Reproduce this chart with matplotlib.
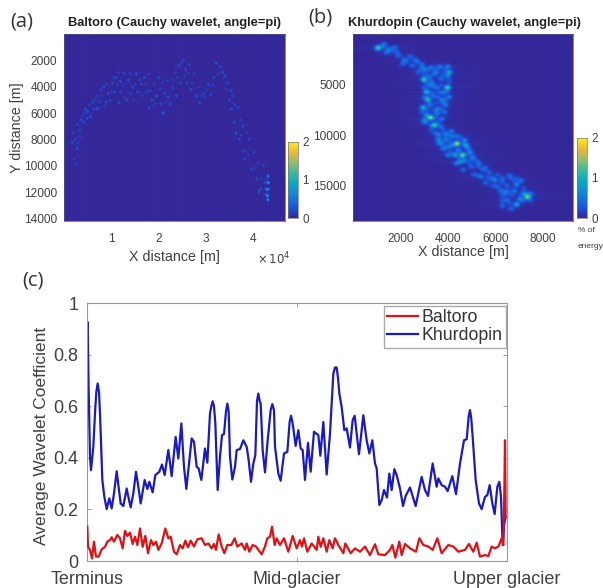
import numpy as np
import matplotlib
matplotlib.use('Agg')
import matplotlib.pyplot as plt
from matplotlib.colors import LinearSegmentedColormap

# (c) average wavelet coefficient along the glacier
khurdopin_pos = [1,2,5,9,12,19,25,28,32,36,39,46,52,59,67,74,81,89,96,101,109,119,124,131,139,147,154,161,173,181,187,197,
    205,217,225,233,244,254,266,274,283,291,298,307,314,321,329,335,343,354,361,369,373,377,381,385,392,399,405,411,417,421,425,429,436,444,
    449,459,469,479,485,492,499,505,510,514,518,521,527,534,542,551,556,561,564,574,581,591,601,608,612,616,619,626,634,641,647,654,663,671,681,694,
    700,709,719,729,739,744,749,753,757,764,772,779,789,797,803,816,829,839,847,856,864,869,877,884,891,900,907,914,922,929,939,948,
    956,969,986,1004,1014,1023,1037,1049,1054,1064,1074,1082,1096,1107,1119,1131,1139,1145,1149,1153,1157,1166,1176,1184,1194,1201,1208,1216,1223,1231,1237,1242,
    1247,1252,1256]
khurdopin_val = [.90,.926,.66,.404,.352,.443,.597,.655,.688,.655,.572,.314,.249,.201,.243,.204,.262,.348,.275,.223,.213,.281,.249,.208,.262,.346,.288,.223,.314,.279,.307,.266,
    .333,.346,.374,.333,.43,.329,.481,.397,.533,.365,.279,.391,.475,.462,.365,.359,.314,.436,.381,.572,.60,.619,.60,.533,.275,.404,.488,.492,.58,.61,.58,.404,.316,.365,
    .43,.434,.468,.443,.391,.307,.378,.41,.62,.649,.62,.61,.43,.343,.468,.585,.608,.585,.443,.339,.311,.417,.423,.54,.563,.54,.514,.446,.507,.436,.43,.314,.458,.346,.501,.488,
    .408,.539,.335,.494,.726,.75,.75,.71,.649,.597,.507,.514,.44,.546,.563,.414,.565,.468,.417,.468,.378,.359,.217,.236,.275,.246,.339,.275,.356,.333,.281,.213,
    .252,.285,.213,.326,.275,.252,.378,.288,.32,.294,.288,.271,.329,.259,.378,.468,.472,.56,.585,.55,.481,.314,.223,.201,.249,.255,.294,.223,.182,.288,.307,.249,
    .062,.146,.172]

baltoro_pos = [1,3,9,15,21,27,35,44,54,61,69,74,81,91,99,107,114,121,129,137,144,151,159,167,175,183,192,199,207,214,
    224,235,244,251,261,269,279,287,295,303,311,321,331,344,354,364,374,381,387,395,404,412,421,433,443,451,464,474,479,487,
    497,507,524,534,541,549,555,563,569,579,591,604,617,629,639,645,651,661,674,689,694,701,709,719,727,737,744,754,769,775,
    791,804,819,834,849,864,874,894,909,916,925,937,944,954,969,987,997,1009,1024,1037,1051,1064,1084,1099,1114,1134,1146,1159,1169,1179,
    1194,1204,1214,1224,1234,1244,1249,1252,1254,1256]
baltoro_val = [.133,.055,.043,.01,.075,.017,.017,.045,.055,.075,.081,.092,.075,.101,.088,.049,.117,.097,.11,.066,.094,.062,.126,.055,.097,.03,.081,.062,.075,.043,
    .068,.126,.088,.094,.036,.026,.062,.049,.079,.053,.079,.056,.084,.088,.062,.068,.049,.066,.043,.103,.056,.03,.062,.062,.088,.056,.068,.043,.068,.036,
    .062,.056,.026,.056,.088,.094,.133,.062,.088,.062,.088,.036,.097,.049,.081,.056,.088,.036,.068,.043,.094,.055,.088,.036,.081,.049,.088,.062,.03,.068,
    .03,.049,.036,.056,.023,.065,.026,.023,.043,.062,.013,.075,.023,.066,.049,.036,.088,.062,.056,.043,.088,.03,.062,.056,.036,.043,.066,.036,.071,.017,
    .023,.019,.056,.049,.056,.088,.062,.275,.468,.17]

c_ticks = [0, 630, 1260]
c_ticklabels = ['Terminus', 'Mid-glacier', 'Upper glacier']
c_yticks = [0, 0.2, 0.4, 0.6, 0.8, 1]
c_yticklabels = ['0', '0.2', '0.4', '0.6', '0.8', '1']

# (a) Baltoro energy hot spots [m]
bal_x = [1700,2000,2700,2900,3300,2800,3500,4200,4500,5000,4800,5500,6000,6500,6900,7500,7700,8400,8900,9300,9700,10200,10700,11000,
    11500,11900,12000,12700,13200,13600,14000,14500,15200,15600,16000,16400,17000,17500,18000,18600,19000,19500,20000,20500,21000,21300,
    21800,22000,22500,23000,23500,23800,24300,24700,25200,25700,26000,26500,26800,27500,28000,28700,29500,29800,30500,31000,31700,32200,
    33000,33500,34000,34500,35300,35500,35700,36000,36800,36400,37100,37800,38000,38300,39200,39700,40200,40800,41200,41500,42200,42500,
    43200,43200,43150,43100,42700,42800,43100]
bal_y = [8200,7500,8700,8300,7300,6900,6500,6700,5700,5900,6400,6300,5200,5000,5700,5100,4200,4000,5200,4500,5000,3700,4400,3300,
    5200,3600,4400,3000,5000,3500,4500,4000,3000,4400,3500,3800,3300,4400,5600,5000,3800,4700,3300,5300,6000,4500,
    3500,4800,5300,4100,2900,4700,2400,3700,2000,2700,3700,2300,4200,3000,4700,5200,4500,4800,3800,4600,3300,2200,
    2500,2900,3200,3700,4300,5700,4700,6700,5600,7500,8000,7000,8900,9500,8000,10300,9000,11000,12000,11800,10000,11300,
    10800,11300,11800,12300,11800,12200,12600]
bal_v = [.3,.25,.32,.25,.32,.28,.35,.32,.4,.35,.32,.28,.28,.25,.32,.28,.28,.32,.32,.28,.28,.28,.32,.32,
    .28,.32,.28,.32,.28,.32,.28,.32,.35,.28,.32,.28,.32,.32,.32,.35,.28,.4,.32,.35,.5,.32,
    .28,.35,.32,.28,.28,.32,.32,.28,.28,.28,.28,.25,.32,.28,.32,.32,.25,.28,.28,.28,.32,.4,
    .32,.35,.35,.32,.35,.35,.28,.35,.32,.4,.35,.32,.32,.28,.28,.28,.28,.32,.32,.35,.28,.32,
    .8,1.2,1.0,.9,.5,.45,.9]
bal_fill_x = [2200,2500,2400,3000,3700,3900,4300,5300,5800,6200,7200,7000,8000,8500,9000,10000,10500,11500,11300,12500,12800,13900,14700,15000,
    16500,17200,17800,18300,18800,19300,20300,20800,21500,22800,24000,24800,25500,26300,27200,28300,29000,30200,31400,32600,34300,35000,
    36200,37500,37500,38800,39000,40500,41000,41800,42800]
bal_fill_y = [9500,9900,8000,7800,7900,6200,6000,5400,6100,5700,5600,4700,4700,5500,3800,4400,3300,2900,3900,3900,4800,3000,5000,3800,
    4700,3800,3000,4300,5500,5300,4200,3700,5200,3400,3300,2200,3200,3000,3700,4000,4700,4200,3900,3000,4200,5000,
    5400,6500,7700,7500,9200,10200,9800,11000,11000]

# (b) Khurdopin energy hot spots [m]
khu_x = [1047,1300,1500,1750,1400,1900,2150,2400,2700,2100,2500,2900,3000,2750,3300,3650,4000,4048,3500,3200,2987,3300,3700,3979,4000,
    3099,3500,3800,3141,3400,3750,4050,2960,3250,3550,3900,3100,3267,3550,3750,3050,3434,3700,3500,3900,4150,3600,3900,4200,4384,4700,
    3800,4100,4450,4750,4000,4300,4635,4850,4350,4700,5050,4650,5000,5300,5500,5100,5400,5750,5900,5600,6000,6300,6600,6100,6500,6900,
    7100,6450,6800,7357,7050,6500,6900,7500,6300,6650,6900,3250,3850,4550,3650,4950,6250,7250]
khu_y = [1353,1000,1500,1300,1800,2100,2500,2200,2700,2900,3100,3000,3500,3700,3300,3200,3200,3795,3800,4200,4488,4700,4400,5280,4200,
    5709,5300,5800,6435,6100,6500,6200,7260,7000,7400,7000,8000,8250,7900,8400,8700,9009,9200,9800,9900,9600,10500,10400,10100,10824,10500,
    11300,11100,11500,11000,12000,11900,11979,11300,12800,12500,12200,13400,13100,12800,13400,13900,14100,13700,14300,14700,14500,14300,14000,15100,15000,14800,
    14500,15700,15500,16104,16300,16400,16800,15800,17000,17300,16900,5100,7700,12600,10800,11700,15500,15800]
khu_v = [1.2,.45,.45,.35,.4,.35,.35,.35,.35,.35,.35,.35,.4,.35,.4,.45,.5,.8,.4,.4,1.15,.4,.4,1.25,.45,
    .9,.4,.4,1.0,.4,.4,.45,.9,.4,.4,.4,.55,1.45,.45,.4,.45,1.15,.4,.4,.4,.4,.45,.45,.45,1.6,.55,
    .45,.45,.55,.55,.4,.45,1.1,.45,.35,.4,.35,.35,.35,.35,.35,.35,.35,.35,.35,.35,.35,.35,.4,.35,.35,.4,
    .4,.4,.45,1.4,.55,.35,.4,.4,.35,.35,.4,.4,.4,.45,.4,.35,.4,.55]
khu_fill_x = [1250,1650,1850,2300,2600,2900,3000,3150,3500,3850,3400,3800,4050,3400,3700,3100,3000,3300,3650,3950,3000,3600,3900,3200,3500,3800,
    2900,3150,3450,3700,3450,3050,2950,3300,3600,3300,3650,3850,3600,4000,4400,3800,4100,4500,4700,3950,4250,4300,4600,4100,4900,4500,
    4900,5200,4450,5000,5300,5600,5300,5700,6100,6300,6700,5900,6900,6500,7200,6900,6300,7100,7500,6700,6300,7200,6600]
khu_fill_y = [1250,1700,1750,2700,2500,3300,4000,3500,3500,3500,4000,4000,4700,5000,5000,4900,5300,5800,5700,5700,6200,6200,6500,6700,6800,6800,
    7700,7500,7600,7400,8400,8400,8600,9000,8800,9500,9900,9500,10200,10000,10100,10800,10600,10200,10900,11200,11000,12000,11900,11700,11700,12200,
    12700,12500,12700,12300,13100,13200,14000,14200,13900,14700,14400,15000,14300,15500,15300,15000,16000,15800,16400,15900,16500,16500,16700]

parula = LinearSegmentedColormap.from_list('parula', [(0, '#34289a'), (0.14, '#1a58e0'), (0.29, '#1482d6'),
    (0.43, '#0aa5c8'), (0.57, '#30b8a0'), (0.71, '#8abf70'), (0.86, '#f0b838'), (1, '#f9f510')])
text_col = '#404040'


def heat_grid(xs, ys, vals, xlim, ylim, nx, ny, sx, sy, streak=0):
    gx = np.linspace(xlim[0], xlim[1], nx)
    gy = np.linspace(ylim[0], ylim[1], ny)
    X, Y = np.meshgrid(gx, gy)
    grid = np.zeros_like(X)
    for x0, y0, v in zip(xs, ys, vals):
        grid += v * np.exp(-(X-x0)**2/(2*sx**2) - (Y-y0)**2/(2*sy**2))
        if streak:
            grid += streak * v * np.exp(-(X-x0)**2/(2*(10*sx)**2) - (Y-y0)**2/(2*(0.5*sy)**2))
    return grid


def px_axes(fig, left, top, right, bottom):
    W, H = 603.0, 588.0
    return fig.add_axes([left/W, 1-bottom/H, (right-left)/W, (bottom-top)/H])


def heat_panel(fig, box, cbox, grid, xlim, ylim, title, title_x, xlabel_pad):
    ax = px_axes(fig, *box)
    ax.imshow(grid, extent=[xlim[0], xlim[1], ylim[0], ylim[1]], origin='lower', cmap=parula, vmin=0, vmax=2,
              aspect='auto', interpolation='bilinear')
    ax.set_xlim(xlim)
    ax.set_ylim(ylim[1], ylim[0])
    ax.tick_params(length=0, labelsize=8.6, colors=text_col, pad=5)
    ax.tick_params(axis='x', pad=8.5)
    for s in ax.spines.values():
        s.set_linewidth(0.5)
        s.set_color('#555577')
    ax.set_xlabel('X distance [m]', fontsize=10.3, color=text_col, labelpad=xlabel_pad)
    fig.text(title_x/603.0, 1-23/588.0, title, fontsize=9.3, fontweight='bold', color='#222222', ha='center', va='center')
    cax = px_axes(fig, *cbox)
    cax.imshow(np.linspace(0, 2, 128).reshape(-1, 1), origin='lower', cmap=parula, vmin=0, vmax=2,
               extent=[0, 1, 0, 2], aspect='auto')
    cax.set_xticks([])
    cax.yaxis.tick_right()
    cax.set_yticks([0, 1, 2])
    cax.tick_params(length=0, labelsize=8.4, colors=text_col, pad=3)
    for s in cax.spines.values():
        s.set_linewidth(0.5)
        s.set_color('#777777')
    return ax


def main():
    plt.rcParams['font.family'] = ['Liberation Sans', 'DejaVu Sans']
    fig = plt.figure(figsize=(6.03, 5.88), dpi=100)

    # Visualization a
    xlim_a, ylim_a = (0, 46700), (0, 14200)
    xs = bal_x + bal_fill_x
    ys = bal_y + bal_fill_y
    vs = bal_v + [0.2] * len(bal_fill_x)
    grid_a = heat_grid(xs, ys, vs, xlim_a, ylim_a, 440, 374, 190, 65)
    ax1 = heat_panel(fig, (64, 34, 285, 221), (288, 142, 298, 218), grid_a, xlim_a, ylim_a,
                     'Baltoro (Cauchy wavelet, angle=pi)', 175, 4)
    ax1.set_xticks([10000, 20000, 30000, 40000])
    ax1.set_xticklabels(['1', '2', '3', '4'])
    ax1.set_yticks([2000, 4000, 6000, 8000, 10000, 12000, 14000])
    ax1.set_ylabel('Y distance [m]', fontsize=10.3, color=text_col, labelpad=0)
    fig.text(257/603.0, 1-259/588.0, r'$\times\,10^{4}$', fontsize=8.4, color=text_col, va='center')

    # Visualization b
    xlim_b, ylim_b = (0, 9270), (0, 18470)
    xs = khu_x + khu_fill_x
    ys = khu_y + khu_fill_y
    vs = khu_v + [0.24] * len(khu_fill_x)
    grid_b = heat_grid(xs, ys, vs, xlim_b, ylim_b, 440, 374, 90, 175, streak=0.04)
    ax2 = heat_panel(fig, (353, 34, 573, 221), (577, 138, 587, 218), grid_b, xlim_b, ylim_b,
                     'Khurdopin (Cauchy wavelet, angle=pi)', 464, 0)
    ax2.set_xticks([2000, 4000, 6000, 8000])
    ax2.set_yticks([5000, 10000, 15000])
    fig.text(578/603.0, 1-231/588.0, '% of', fontsize=6, color=text_col, va='center')
    fig.text(578/603.0, 1-246/588.0, 'energy', fontsize=6, color=text_col, va='center')

    # Visualization c
    ax3 = px_axes(fig, 87, 303, 507, 561)
    ax3.plot(baltoro_pos, baltoro_val, color='#e01015', linewidth=1.6, label='Baltoro', zorder=3)
    ax3.plot(khurdopin_pos, khurdopin_val, color='#1a1ac4', linewidth=1.6, label='Khurdopin', zorder=2)
    ax3.set_xlim(0, 1260)
    ax3.set_ylim(0, 1)
    ax3.set_xticks(c_ticks)
    ax3.set_xticklabels(c_ticklabels)
    ax3.set_yticks(c_yticks)
    ax3.set_yticklabels(c_yticklabels)
    ax3.tick_params(direction='in', top=True, right=True, length=3, width=0.6, color='#888888',
                    labelsize=13, labelcolor=text_col, pad=6)
    ax3.tick_params(axis='x', pad=7)
    for s in ax3.spines.values():
        s.set_linewidth(0.8)
        s.set_color('#999999')
    ax3.set_ylabel('Average Wavelet Coefficient', fontsize=12.5, color=text_col, labelpad=3, y=0.485)
    leg = ax3.legend(loc='upper right', bbox_to_anchor=(0.9985, 0.99), fontsize=12.8, fancybox=False, framealpha=1,
                     edgecolor='#aaaaaa', handlelength=1.75, handletextpad=0.2, labelspacing=0.05, borderpad=0.2, borderaxespad=0)
    for t in leg.get_texts():
        t.set_color('#333333')

    # panel letters
    for label, x, y in [('(a)', 10, 21), ('(b)', 308, 18), ('(c)', 22, 281)]:
        fig.text(x/603.0, 1-y/588.0, label, fontsize=14.5, family='Open Sans', color='#333333', va='center')

    fig.savefig('out.png', dpi=100)


if __name__ == "__main__":
    main()
